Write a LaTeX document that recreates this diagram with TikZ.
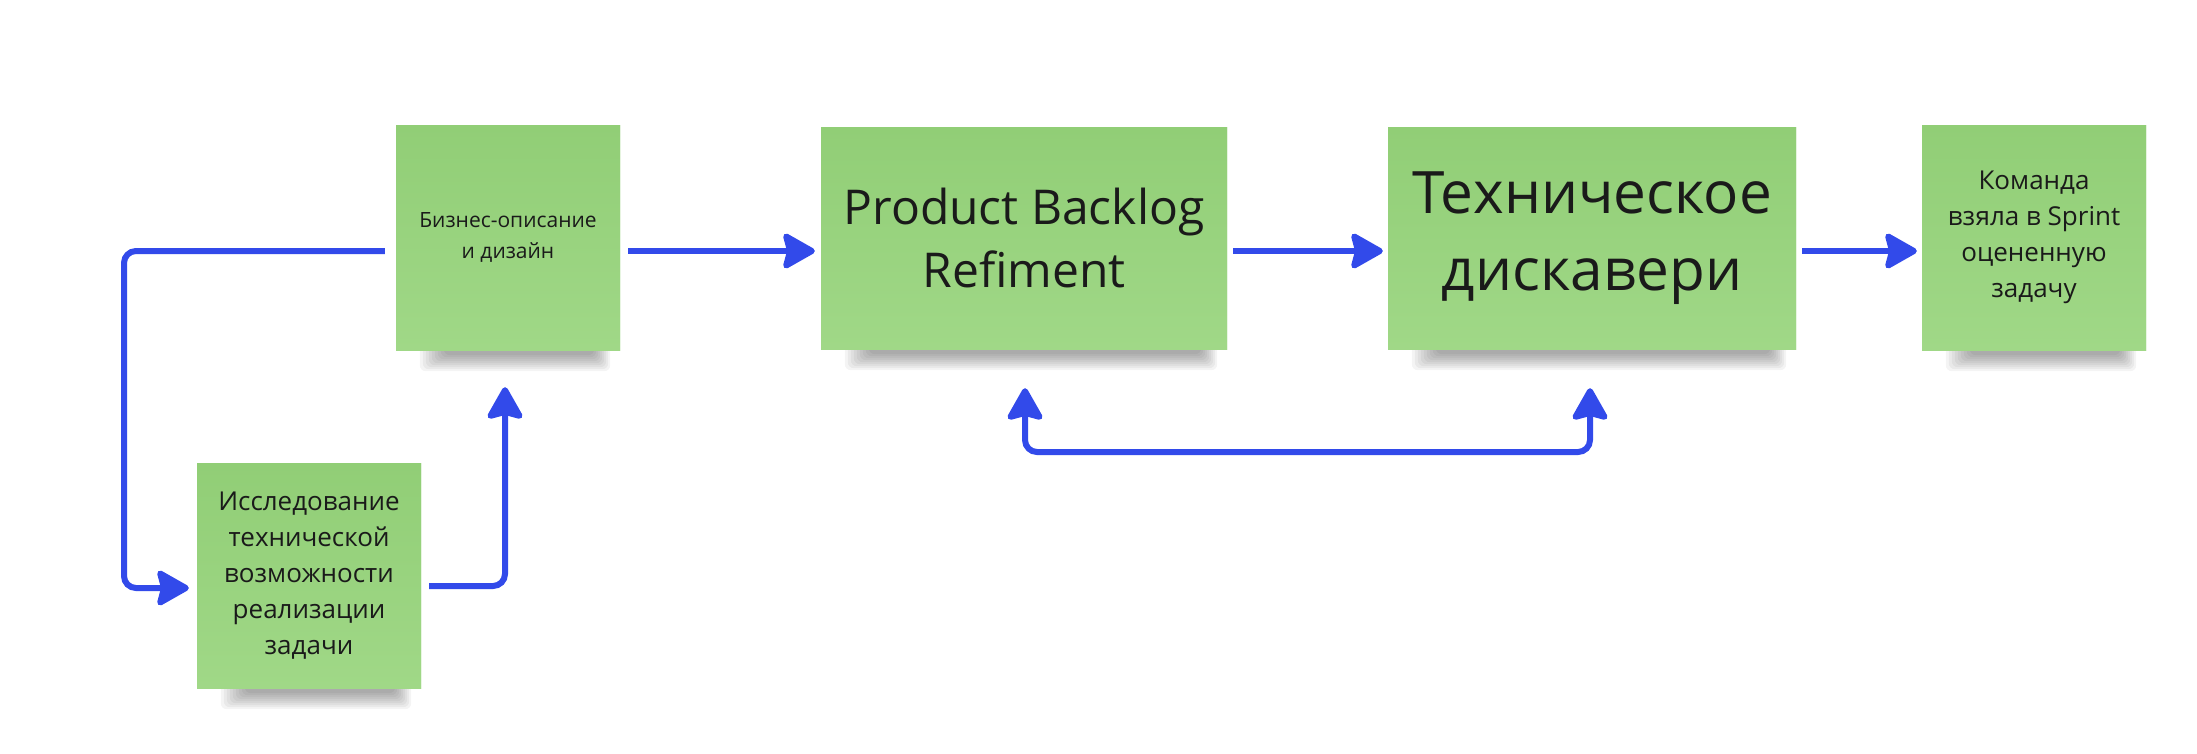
\documentclass[tikz,border=0pt]{standalone}
\usepackage{fontspec}
\setmainfont{Open Sans}
\usetikzlibrary{arrows.meta,calc}
\definecolor{arrowblue}{RGB}{50,74,234}
\definecolor{notetop}{RGB}{145,206,118}
\definecolor{notebot}{RGB}{160,216,135}
\definecolor{inktext}{RGB}{26,26,26}
\tikzset{
  tipstyle/.tip={Stealth[length=36pt,width=40pt,inset=5pt,round]},
  note/.style={draw=none, top color=notetop, bottom color=notebot, text=inktext,
    align=center, inner sep=0pt, minimum width=#1},
  flow/.style={draw=arrowblue, line width=6pt, rounded corners=12pt, -tipstyle},
  both/.style={draw=arrowblue, line width=6pt, rounded corners=12pt, tipstyle-tipstyle}
}
\newcommand\noteshadow[1]{%
  \foreach \k in {0,...,8}{%
    \fill[black,opacity=0.045,rounded corners=6pt]
      ($(#1.south west)+(24+3*\k,-20)$) rectangle ($(#1.south east)+(-10-2*\k,21-2*\k)$);
  }%
}
\newcommand\bizfont{\fontsize{21}{31}\selectfont}
\newcommand\midfont{\fontsize{26}{36}\selectfont}
\newcommand\pbrfont{\fontsize{48}{63}\selectfont}
\newcommand\techfont{\fontsize{58.5}{77}\selectfont}
\begin{document}
\begin{tikzpicture}[x=1pt,y=-1pt]
\useasboundingbox (0,0) rectangle (2197,753);
% named nodes (define positions)
\node[note=224pt, minimum height=225pt, font=\bizfont] (b1) at (508,237.5) {Бизнес-описание\\и дизайн};
\node[note=224pt, minimum height=225pt, font=\midfont] (b2) at (309,575.5) {Исследование\\технической\\возможности\\реализации\\задачи};
\node[note=406pt, minimum height=222pt, font=\pbrfont] (b3) at (1024,238) {Product Backlog\\Refiment};
\node[note=408pt, minimum height=222pt, font=\techfont] (b4) at (1592,238) {Техническое\\дискавери};
\node[note=224pt, minimum height=225pt, font=\midfont] (b5) at (2034,237.5) {Команда\\взяла в Sprint\\оцененную\\задачу};
% shadows
\noteshadow{b1}\noteshadow{b2}\noteshadow{b3}\noteshadow{b4}\noteshadow{b5}
% notes again on top of shadows
\node[note=224pt, minimum height=225pt, font=\bizfont] at (b1) {Бизнес-описание\\и дизайн};
\node[note=224pt, minimum height=225pt, font=\midfont] at (b2) {Исследование\\технической\\возможности\\реализации\\задачи};
\node[note=406pt, minimum height=222pt, font=\pbrfont] at (b3) {Product Backlog\\Refiment};
\node[note=408pt, minimum height=222pt, font=\techfont] at (b4) {Техническое\\дискавери};
\node[note=224pt, minimum height=225pt, font=\midfont] at (b5) {Команда\\взяла в Sprint\\оцененную\\задачу};
% connectors
\coordinate (l1) at (124,251);
\coordinate (l2) at (124,588);
\draw[flow] ($(b1.west)+(-11,13.5)$) -- (l1) -- (l2) -- ($(b2.west)+(-8,12.5)$);
\coordinate (r1) at (505,586);
\draw[flow] ($(b2.east)+(8,10.5)$) -- (r1) -- ($(b1.south)+(-3,37)$);
\draw[flow] ($(b1.east)+(8,13.5)$) -- ($(b3.west)+(-6,13)$);
\draw[flow] ($(b3.east)+(6,13)$) -- ($(b4.west)+(-5,13)$);
\draw[flow] ($(b4.east)+(6,13)$) -- ($(b5.west)+(-5,13.5)$);
\coordinate (d1) at (1025,452);
\coordinate (d2) at (1590,452);
\draw[both] ($(b3.south)+(1,39)$) -- (d1) -- (d2) -- ($(b4.south)+(-2,39)$);
\end{tikzpicture}
\end{document}
